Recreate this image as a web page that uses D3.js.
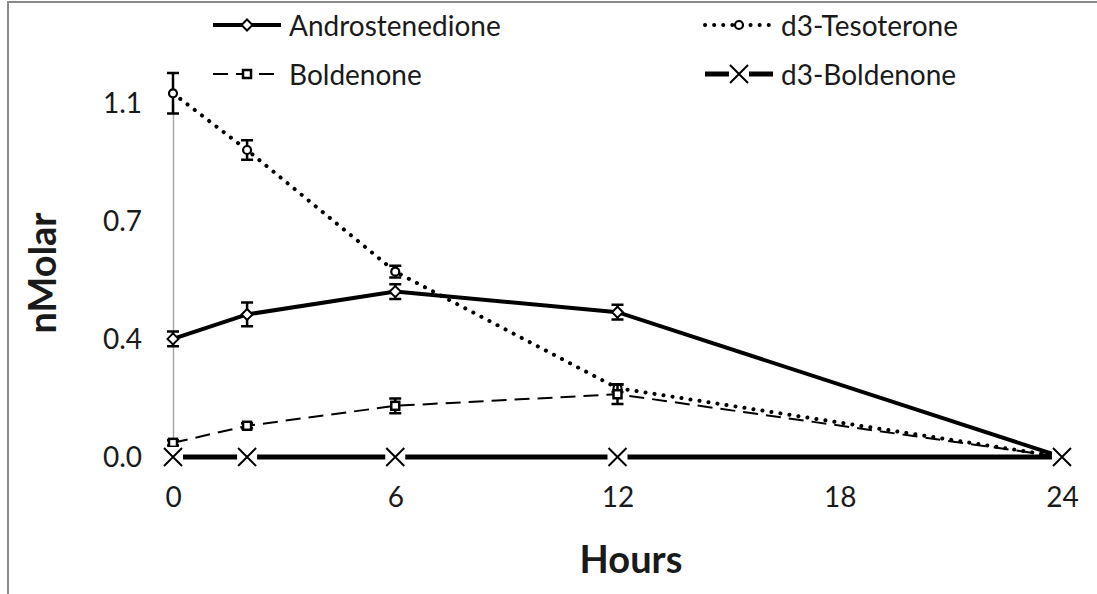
<!DOCTYPE html>
<html>
  <head>
    <meta charset="utf-8">
    <title>nMolar vs hours</title>
    <style>
      body {
        overflow: hidden;
        margin: 0px;
        background: white;
      }

      text {
        font-family: Lato, "Open Sans", sans-serif;
        fill: #1a1a1a;
      }

      .tick-label {
        font-size: 28px;
      }

      .legend-label {
        font-size: 28px;
        dominant-baseline: central;
      }

      .axis-title {
        font-size: 38px;
        font-weight: bold;
      }

      .frame {
        fill: none;
        stroke: #8a8a8a;
        stroke-width: 2px;
      }

      .axis-line {
        stroke: #a6a6a6;
        stroke-width: 1.5px;
      }

      .errbar {
        stroke: black;
        stroke-width: 2.5px;
        fill: none;
      }
    </style>
  </head>
  <body>
    <svg id="container" width="1097" height="594"></svg>
    <script src="https://cdn.jsdelivr.net/npm/d3@7"></script>

    <script type="text/javascript">
      var hours = [0, 2, 6, 12, 24];

      var androstenedione = [0.367, 0.443, 0.514, 0.450, 0];
      var androstenedioneErr = [0.023, 0.037, 0.023, 0.023, 0];

      var tesoterone = [1.130, 0.954, 0.576, 0.214, 0];
      var tesoteroneErr = [0.063, 0.030, 0.018, 0.012, 0];

      var boldenone = [0.044, 0.097, 0.159, 0.195, 0];
      var boldenoneErr = [0.008, 0.008, 0.023, 0.030, 0];

      var d3Boldenone = [0, 0, 0, 0, 0];

      var xTicks = [0, 6, 12, 18, 24];
      var yTicks = [0, 1.1 / 3, 2.2 / 3, 1.1];

      var svg = d3.select('#container');

      var x = d3.scaleLinear().domain([0, 24]).range([173, 1062]);
      var y = d3.scaleLinear().domain([0, 1.1]).range([457, 103]);

      /*
        Frame (right and bottom edges fall outside the picture)
      */
      svg.append('rect')
        .attr('class', 'frame')
        .attr('x', 8)
        .attr('y', 2)
        .attr('width', 1300)
        .attr('height', 800);

      /*
        Axes
      */
      var yAxis = d3.axisLeft(y).tickValues(yTicks).tickSize(0).tickPadding(31)
        .tickFormat(d3.format('.1f'));
      var gy = svg.append('g').attr('transform', 'translate(' + x(0) + ',0)').call(yAxis);
      gy.select('.domain').attr('class', 'axis-line');
      gy.selectAll('text').attr('class', 'tick-label').attr('dy', '0.35em');

      var xAxis = d3.axisBottom(x).tickValues(xTicks).tickSize(0).tickPadding(40)
        .tickFormat(d3.format('d'));
      var gx = svg.append('g').attr('transform', 'translate(0,' + y(0) + ')').call(xAxis);
      gx.select('.domain').attr('class', 'axis-line');
      gx.selectAll('text').attr('class', 'tick-label').attr('dy', '0.35em');

      svg.append('text')
        .attr('class', 'axis-title')
        .attr('text-anchor', 'middle')
        .attr('transform', 'translate(56,273) rotate(-90)')
        .text('nMolar');

      svg.append('text')
        .attr('class', 'axis-title')
        .attr('text-anchor', 'middle')
        .attr('x', 631)
        .attr('y', 573)
        .text('Hours');

      /*
        Markers
      */
      function marker(g, kind) {
        if (kind === 'diamond') {
          g.append('path').attr('d', 'M0,-5.5L5.5,0L0,5.5L-5.5,0Z')
            .attr('fill', 'white').attr('stroke', 'black').attr('stroke-width', 2);
        } else if (kind === 'circle') {
          g.append('circle').attr('r', 4)
            .attr('fill', 'white').attr('stroke', 'black').attr('stroke-width', 2.2);
        } else if (kind === 'square') {
          g.append('rect').attr('x', -4).attr('y', -4).attr('width', 8).attr('height', 8)
            .attr('fill', 'white').attr('stroke', 'black').attr('stroke-width', 2.5);
        } else if (kind === 'cross') {
          g.append('rect').attr('x', -10).attr('y', -10).attr('width', 20).attr('height', 20)
            .attr('fill', 'white');
          g.append('path').attr('d', 'M-9,-9L9,9M-9,9L9,-9')
            .attr('stroke', 'black').attr('stroke-width', 2);
        }
      }

      var series = [
        { name: 'Androstenedione', values: androstenedione, err: androstenedioneErr,
          width: 4, dash: null, cap: 'butt', marker: 'diamond', lx: 213, ly: 25 },
        { name: 'd3-Tesoterone', values: tesoterone, err: tesoteroneErr,
          width: 4, dash: '0.1,9', cap: 'round', marker: 'circle', lx: 705, ly: 25 },
        { name: 'Boldenone', values: boldenone, err: boldenoneErr,
          width: 2, dash: '15,8', cap: 'butt', marker: 'square', lx: 213, ly: 74 },
        { name: 'd3-Boldenone', values: d3Boldenone, err: null,
          width: 5, dash: null, cap: 'butt', marker: 'cross', lx: 705, ly: 74 }
      ];

      var line = d3.line()
        .x(function(d) { return x(d[0]); })
        .y(function(d) { return y(d[1]); });

      series.forEach(function(s) {
        var pts = hours.map(function(h, i) { return [h, s.values[i]]; });
        var g = svg.append('g');

        g.append('path')
          .attr('d', line(pts))
          .attr('fill', 'none')
          .attr('stroke', 'black')
          .attr('stroke-width', s.width)
          .attr('stroke-dasharray', s.dash)
          .attr('stroke-linecap', s.cap);

        if (s.err) {
          pts.forEach(function(p, i) {
            var e = s.err[i];
            if (!e) return;
            var cx = x(p[0]), y0 = y(p[1] - e), y1 = y(p[1] + e);
            g.append('path')
              .attr('class', 'errbar')
              .attr('d', 'M' + cx + ',' + y0 + 'V' + y1 +
                'M' + (cx - 6) + ',' + y0 + 'H' + (cx + 6) +
                'M' + (cx - 6) + ',' + y1 + 'H' + (cx + 6));
          });
        }

        pts.forEach(function(p) {
          marker(g.append('g').attr('transform', 'translate(' + x(p[0]) + ',' + y(p[1]) + ')'), s.marker);
        });

        /*
          Legend entry
        */
        var lg = svg.append('g');
        lg.append('line')
          .attr('x1', s.lx).attr('x2', s.lx + 68)
          .attr('y1', s.ly).attr('y2', s.ly)
          .attr('stroke', 'black')
          .attr('stroke-width', s.width)
          .attr('stroke-dasharray', s.dash)
          .attr('stroke-linecap', s.cap);
        marker(lg.append('g').attr('transform', 'translate(' + (s.lx + 34) + ',' + s.ly + ')'), s.marker);
        lg.append('text')
          .attr('class', 'legend-label')
          .attr('x', s.lx + 76)
          .attr('y', s.ly)
          .text(s.name);
      });
    </script>
  </body>
</html>
